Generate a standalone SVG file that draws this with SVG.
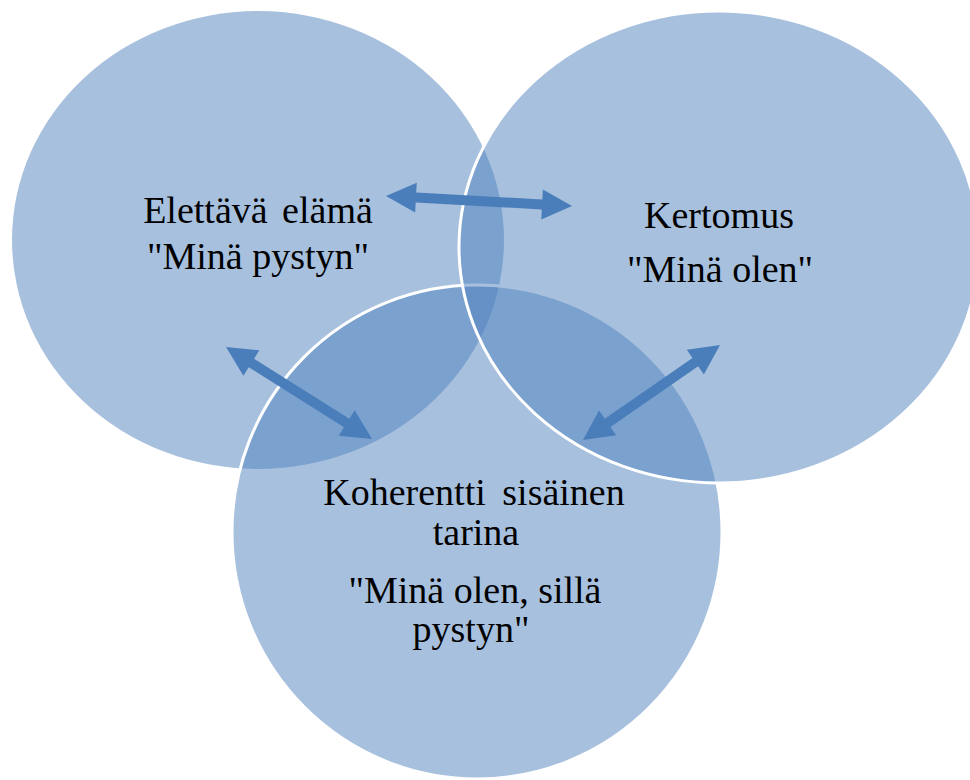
<svg xmlns="http://www.w3.org/2000/svg" width="970" height="780" viewBox="0 0 970 780">
<style>
.circ{fill:#4f81bd;fill-opacity:0.5}
.edge{stroke:#ffffff;stroke-width:3}
.lbl{font-family:"Liberation Serif","Times New Roman",serif;font-size:38px;fill:#000000;text-anchor:middle}
.arr{fill:#4a7ebb}
</style>
<defs>
<polygon id="a1" points="0,0 30,-15 30,-5 156.3,-5 156.3,-15 186.3,0 156.3,15 156.3,5 30,5 30,15"/>
<polygon id="a2" points="0,0 30,-15 30,-5 142.6,-5 142.6,-15 172.6,0 142.6,15 142.6,5 30,5 30,15"/>
<polygon id="a3" points="0,0 30,-15 30,-5 136.7,-5 136.7,-15 166.7,0 136.7,15 136.7,5 30,5 30,15"/>
</defs>
<rect width="970" height="780" fill="#ffffff"/>
<g id="node-elettava">
<ellipse class="circ" cx="258" cy="240" rx="246" ry="229"/>
</g>
<g id="node-koherentti">
<ellipse class="circ edge" cx="477" cy="532" rx="245" ry="247"/>
</g>
<g id="node-kertomus">
<ellipse class="circ edge" cx="719" cy="247" rx="260" ry="236"/>
</g>
<g id="labels">
<text class="lbl" x="258" y="223" word-spacing="5">Elettävä elämä</text>
<text class="lbl" x="258" y="269">"Minä pystyn"</text>
<text class="lbl" x="719" y="228">Kertomus</text>
<text class="lbl" x="720" y="282">"Minä olen"</text>
<text class="lbl" x="474" y="505" word-spacing="7">Koherentti sisäinen</text>
<text class="lbl" x="476" y="545">tarina</text>
<text class="lbl" x="475" y="603">"Minä olen, sillä</text>
<text class="lbl" x="471" y="642">pystyn"</text>
</g>
<g id="connectors">
<use href="#a1" class="arr" transform="translate(386,196) rotate(3.08)"/>
<use href="#a2" class="arr" transform="translate(226,347) rotate(32.2)"/>
<use href="#a3" class="arr" transform="translate(720,345) rotate(145.3)"/>
</g>
</svg>
